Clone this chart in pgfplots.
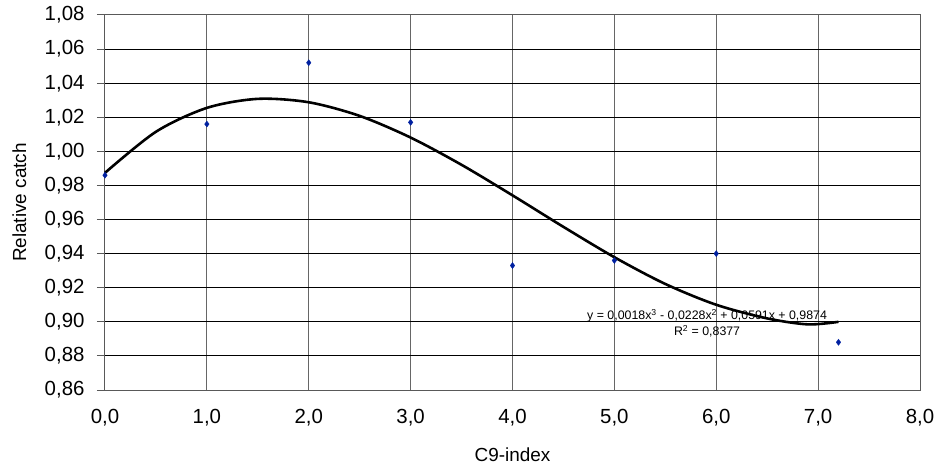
\documentclass[border=0pt]{standalone}
\usepackage{pgfplots}
\pgfplotsset{compat=1.18}
\usepackage{fontspec}
\setmainfont{Liberation Sans}
\definecolor{ptblue}{RGB}{0,32,160}
\begin{document}
\begin{tikzpicture}
\begin{axis}[
  scale only axis,
  width=815bp, height=375bp,
  xmin=0, xmax=8, ymin=0.86, ymax=1.08,
  xtick={0,1,...,8},
  ytick={0.86,0.88,...,1.081},
  grid=major,
  x grid style={line width=1pt, gray!80!black},
  y grid style={line width=1pt, black},
  axis line style={line width=1pt, gray!70!black},
  tick style={line width=1pt, gray!70!black},
  xtick style={draw=none},
  tick align=outside,
  major tick length=8bp,
  xtick pos=bottom, ytick pos=left,
  /pgf/number format/assume math mode=true,
  xticklabel style={yshift=-8bp, /pgf/number format/.cd, fixed, fixed zerofill, precision=1, use comma},
  yticklabel style={xshift=-9bp, /pgf/number format/.cd, fixed, fixed zerofill, precision=2, use comma},
  tick label style={font=\fontsize{20.5}{24}\selectfont},
  label style={font=\fontsize{19}{23}\selectfont},
  xlabel={C9-index},
  ylabel={Relative catch},
  xlabel style={at={(axis description cs:0.5,-0.1733)}, anchor=center},
  ylabel style={at={(axis description cs:-0.105,0.5)}, anchor=center},
  clip=false,
]
\addplot[black, line width=2.6pt, smooth, tension=0.5] coordinates {
(0,0.9874) (0.5,1.0115) (1,1.0255) (1.5,1.0308) (2,1.0288) (2.5,1.0208)
(3,1.0081) (3.5,0.9921) (4,0.9742) (4.5,0.9557) (5,0.9379) (5.5,0.9222)
(6,0.9100) (6.5,0.9020) (6.9,0.8985) (7.2,0.9000)
};
\addplot[only marks, mark=diamond*, mark size=3pt, color=ptblue] coordinates {
(0,0.986) (1,1.016) (2,1.052) (3,1.017) (4,0.933) (5,0.936) (6,0.940) (7.2,0.888)
};
\node[font=\fontsize{12.4}{16}\selectfont, align=center, inner sep=0pt] at (axis cs:5.91,0.8993)
  {y = 0,0018x\textsuperscript{3} - 0,0228x\textsuperscript{2} + 0,0591x + 0,9874\\ R\textsuperscript{2} = 0,8377};
\coordinate (sw) at (rel axis cs:0,0);
\coordinate (ne) at (rel axis cs:1,1);
\end{axis}
\pgfresetboundingbox
\path ([shift={(-105bp,-82bp)}]sw) rectangle ([shift={(21bp,15bp)}]ne);
\end{tikzpicture}
\end{document}
